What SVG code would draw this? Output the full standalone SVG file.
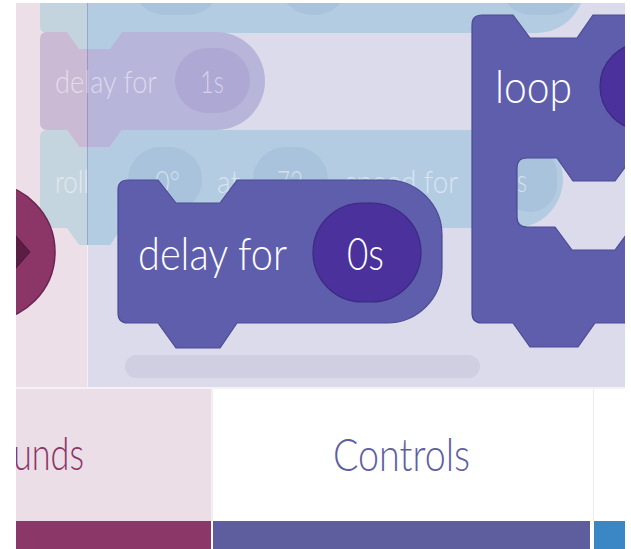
<svg xmlns="http://www.w3.org/2000/svg" width="631" height="549" viewBox="0 0 631 549">
<defs>
<style>
.ui{font-family:"Lato","Noto Sans","DejaVu Sans",sans-serif;font-weight:300}
.ghost{fill:#ffffff;fill-opacity:0.5;font-size:31px}
.big{fill:#ffffff;font-size:46px}
.blk{fill:#5e5eac;stroke:#4b4a93;stroke-width:1.2;stroke-linejoin:round}
.pill{fill:#4a319b;stroke:#3b2a80;stroke-width:1.2}
.gpill-b{fill:#a9c3dc}
.gpill-p{fill:#aea8d4}
</style>
<clipPath id="clipL"><rect x="16" y="3" width="71" height="384"/></clipPath>
<clipPath id="clipC"><rect x="87" y="3" width="538" height="384"/></clipPath>
<path id="shTop" d="M47 -65 L536 -65 A49 49 0 0 1 536 33 L122 33 L110 50 L79 50 L67 33 L47 33 Q40 33 40 26 L40 -58 Q40 -65 47 -65 Z"/>
<path id="shDelay" d="M47 32 L67 32 L79 49 L110 49 L122 32 L216 32 A49 49 0 0 1 216 130 L122 130 L110 147 L79 147 L67 130 L47 130 Q40 130 40 123 L40 39 Q40 32 47 32 Z"/>
<path id="shRoll" d="M47 130 L67 130 L79 147 L110 147 L122 130 L514 130 A49 49 0 0 1 514 228 L122 228 L110 245 L79 245 L67 228 L47 228 Q40 228 40 221 L40 137 Q40 130 47 130 Z"/>
</defs>

<rect width="631" height="549" fill="#ffffff"/>

<g id="panel-left"><rect x="16" y="3" width="71" height="384" fill="#ecdfe8"/></g>
<g id="canvas"><rect x="87" y="3" width="538" height="384" fill="#dcdbec"/>
<line x1="87.5" y1="3" x2="87.5" y2="387" stroke="#f2eff6" stroke-width="1"/></g>

<g id="scrollbar"><rect x="125" y="355" width="355" height="23" rx="11.5" fill="#d0cfe2"/></g>

<g id="ghost-top">
<use href="#shTop" fill="#c4d4df" clip-path="url(#clipL)"/>
<use href="#shTop" fill="#b3cce2" clip-path="url(#clipC)"/>
<rect class="gpill-b" x="133" y="-50" width="87" height="65" rx="32"/>
<rect class="gpill-b" x="280" y="-50" width="67" height="65" rx="32"/>
<rect class="gpill-b" x="500" y="-50" width="82" height="65" rx="32"/>
</g>

<g id="ghost-delay">
<use href="#shDelay" fill="#cbbad4" clip-path="url(#clipL)"/>
<use href="#shDelay" fill="#b8b5da" clip-path="url(#clipC)"/>
<rect class="gpill-p" x="175" y="48" width="75" height="65" rx="32.5"/>
<text class="ui ghost" x="55" y="93" textLength="102" lengthAdjust="spacingAndGlyphs">delay for</text>
<text class="ui ghost" x="200" y="93" textLength="24" lengthAdjust="spacingAndGlyphs">1s</text>
</g>

<g id="ghost-roll">
<use href="#shRoll" fill="#c4d5df" clip-path="url(#clipL)"/>
<use href="#shRoll" fill="#b3cce2" clip-path="url(#clipC)"/>
<rect class="gpill-b" x="128" y="147" width="74" height="65" rx="32.5"/>
<rect class="gpill-b" x="253" y="147" width="75" height="65" rx="32.5"/>
<rect class="gpill-b" x="503" y="147" width="54" height="65" rx="27"/>
<text class="ui ghost" x="55" y="193" textLength="34" lengthAdjust="spacingAndGlyphs">roll</text>
<text class="ui ghost" x="155" y="193" textLength="25" lengthAdjust="spacingAndGlyphs">0°</text>
<text class="ui ghost" x="217" y="193" textLength="23" lengthAdjust="spacingAndGlyphs">at</text>
<text class="ui ghost" x="277" y="193" textLength="26" lengthAdjust="spacingAndGlyphs">72</text>
<text class="ui ghost" x="345" y="193" textLength="113" lengthAdjust="spacingAndGlyphs">speed for</text>
<text class="ui ghost" x="517" y="192" textLength="10" lengthAdjust="spacingAndGlyphs">s</text>
</g>

<line x1="87.5" y1="3" x2="87.5" y2="245" stroke="#55528f" stroke-opacity="0.3" stroke-width="1"/>

<g id="sound-button">
<circle cx="-14" cy="252" r="69" fill="#8c3567" stroke="#6b2452" stroke-width="1.5"/>
<polygon points="4,222 30,252 4,282" fill="#5c1d44" stroke="#4e183a" stroke-width="1" stroke-linejoin="round"/>
</g>

<g id="loop-block">
<path class="blk" d="M482 15 L513 15 L530 38 L577 38 L593 15 L645 15 L645 158 L632 158 L615 181 L573 181 L557 158 L527 158 Q517 158 517 168 L517 217 Q517 227 527 227 L555 227 L572 250 L615 250 L632 227 L645 227 L645 323 L595 323 L578 347 L530 347 L513 323 L482 323 Q472 323 472 313 L472 25 Q472 15 482 15 Z"/>
<rect class="pill" x="600" y="43" width="100" height="87" rx="43.5"/>
<text class="ui big" x="495" y="103" textLength="77" lengthAdjust="spacingAndGlyphs">loop</text>
</g>

<g id="delay-block">
<path class="blk" d="M128 180 L158 180 L176 203 L220 203 L237 180 L387 180 A55 55 0 0 1 442 235 L442 268 A55 55 0 0 1 387 323 L237 323 L220 348 L176 348 L158 323 L128 323 Q118 323 118 313 L118 190 Q118 180 128 180 Z"/>
<rect class="pill" x="313" y="203" width="108" height="99" rx="49.5"/>
<text class="ui big" x="138" y="270" textLength="149" lengthAdjust="spacingAndGlyphs">delay for</text>
<text class="ui big" x="347" y="270" textLength="37" lengthAdjust="spacingAndGlyphs">0s</text>
</g>

<g id="tab-sounds">
<rect x="16" y="387" width="609" height="2" fill="#f4f2f6"/>
<rect x="16" y="389" width="195" height="132" fill="#ebdee7"/>
<text class="ui" x="13" y="470" font-size="46" fill="#8b3768" textLength="71" lengthAdjust="spacingAndGlyphs">unds</text>
<rect x="16" y="521" width="195" height="28" fill="#8b3768"/>
</g>
<g id="tab-controls">
<rect x="211" y="389" width="2" height="132" fill="#f3eef2"/>
<rect x="213" y="389" width="380" height="132" fill="#ffffff"/>
<text class="ui" x="333" y="471" font-size="46" fill="#5f5ea3" textLength="137" lengthAdjust="spacingAndGlyphs">Controls</text>
<rect x="213" y="521" width="377" height="28" fill="#5e5d9e"/>
</g>
<g id="tab-next">
<rect x="593" y="389" width="1" height="132" fill="#ebebf0"/>
<rect x="594" y="521" width="31" height="28" fill="#3b87c5"/>
</g>

<g id="margins">
<rect x="0" y="0" width="16" height="549" fill="#ffffff"/>
<rect x="0" y="0" width="631" height="3" fill="#ffffff"/>
<rect x="625" y="0" width="6" height="549" fill="#ffffff"/>
</g>
</svg>
